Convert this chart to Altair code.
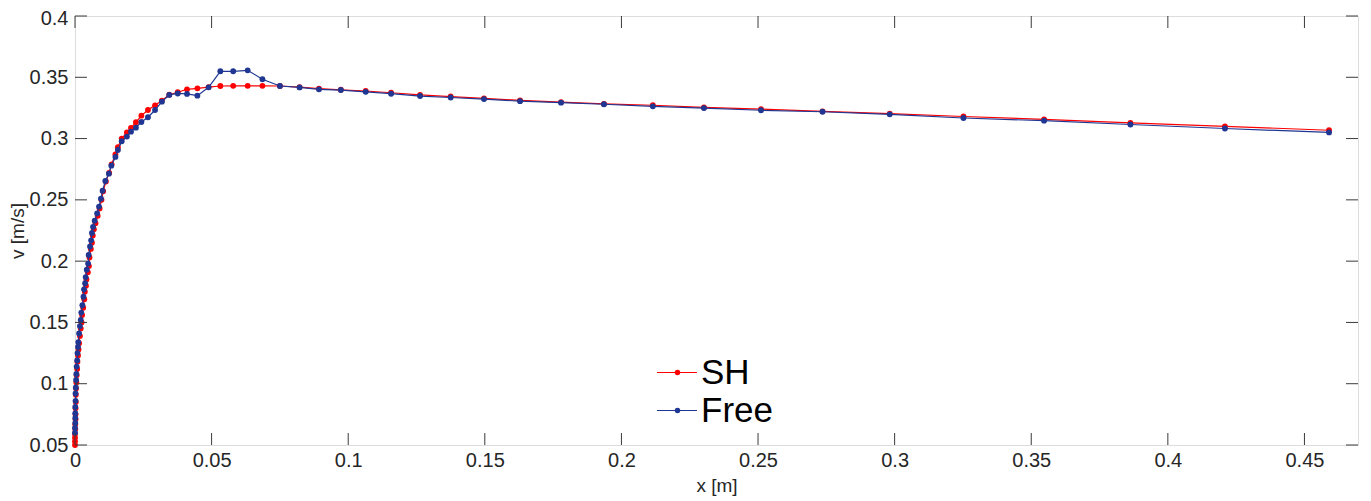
import altair as alt
import pandas as pd

# ---- data ----
x_free = [0.0000, 0.0000, 0.0001, 0.0001, 0.0001, 0.0001, 0.0002, 0.0002, 0.0003, 0.0004,
          0.0005, 0.0006, 0.0008, 0.0009, 0.0011, 0.0012, 0.0015, 0.0018, 0.0021, 0.0023,
          0.0027, 0.0031, 0.0033, 0.0037, 0.0039, 0.0043, 0.0048, 0.0050, 0.0055, 0.0059,
          0.0062, 0.0066, 0.0072, 0.0081, 0.0088, 0.0095, 0.0101, 0.0111, 0.0124, 0.0133,
          0.0148, 0.0157, 0.0171, 0.0190, 0.0205, 0.0223, 0.0243, 0.0267, 0.0293, 0.0318,
          0.0345, 0.0376, 0.0410, 0.0448, 0.0489, 0.0532, 0.0579, 0.0632, 0.0686, 0.0750,
          0.0822, 0.0893, 0.0973, 0.1064, 0.1157, 0.1263, 0.1375, 0.1497, 0.1629, 0.1779,
          0.1936, 0.2115, 0.2302, 0.2511, 0.2736, 0.2982, 0.3252, 0.3547, 0.3863, 0.4209,
          0.4590]
v_free = [0.060, 0.064, 0.068, 0.072, 0.076, 0.081, 0.086, 0.092, 0.097, 0.103,
          0.108, 0.114, 0.119, 0.125, 0.130, 0.134, 0.141, 0.147, 0.152, 0.158,
          0.164, 0.171, 0.177, 0.182, 0.187, 0.193, 0.198, 0.205, 0.212, 0.217,
          0.223, 0.228, 0.233, 0.239, 0.2445, 0.251, 0.2575, 0.2654, 0.2714, 0.2779,
          0.2850, 0.2907, 0.2978, 0.3016, 0.3056, 0.3089, 0.3135, 0.3174, 0.3233, 0.3301,
          0.3356, 0.3368, 0.3364, 0.3350, 0.3418, 0.3549, 0.3549, 0.3557, 0.3484, 0.3429,
          0.3417, 0.3402, 0.3396, 0.3381, 0.3366, 0.3347, 0.3335, 0.3322, 0.3305, 0.3293,
          0.3280, 0.3263, 0.3249, 0.3231, 0.3219, 0.3198, 0.3168, 0.3146, 0.3115, 0.3082,
          0.3050]

x_sh = [0.0000, 0.0000, 0.0000, 0.0000, 0.0001, 0.0001, 0.0002, 0.0002, 0.0002, 0.0003,
        0.0003, 0.0004, 0.0005, 0.0006, 0.0008, 0.0009, 0.0011, 0.0013, 0.0015, 0.0018,
        0.0021, 0.0024, 0.0026, 0.0030, 0.0034, 0.0036, 0.0040, 0.0042, 0.0047, 0.0051,
        0.0053, 0.0058, 0.0062, 0.0065, 0.0069, 0.0075, 0.0083, 0.0090, 0.0097, 0.0103,
        0.0113, 0.0125, 0.0134, 0.0148, 0.0157, 0.0171, 0.0190, 0.0205, 0.0223, 0.0243,
        0.0267, 0.0293, 0.0318, 0.0345, 0.0376, 0.0410, 0.0448, 0.0489, 0.0532, 0.0579,
        0.0632, 0.0686, 0.0750, 0.0822, 0.0893, 0.0973, 0.1064, 0.1157, 0.1263, 0.1375,
        0.1497, 0.1629, 0.1779, 0.1936, 0.2115, 0.2302, 0.2511, 0.2736, 0.2982, 0.3252,
        0.3547, 0.3863, 0.4209, 0.4590]
v_sh = [0.050, 0.053, 0.056, 0.059, 0.063, 0.067, 0.071, 0.075, 0.080, 0.085,
        0.091, 0.096, 0.101, 0.107, 0.112, 0.118, 0.123, 0.128, 0.133, 0.139,
        0.145, 0.150, 0.156, 0.162, 0.169, 0.175, 0.180, 0.185, 0.191, 0.196,
        0.203, 0.210, 0.215, 0.221, 0.226, 0.231, 0.237, 0.243, 0.250, 0.257,
        0.265, 0.272, 0.279, 0.287, 0.293, 0.300, 0.305, 0.3087, 0.3133, 0.3187,
        0.3233, 0.3271, 0.3310, 0.3358, 0.3378, 0.3402, 0.3410, 0.3420, 0.3429, 0.3430,
        0.3430, 0.3430, 0.3429, 0.3420, 0.3408, 0.3398, 0.3388, 0.3374, 0.3356, 0.3343,
        0.3328, 0.3312, 0.3298, 0.3283, 0.3272, 0.3254, 0.3240, 0.3222, 0.3204, 0.3180,
        0.3157, 0.3128, 0.3100, 0.3068]

x_ticks = [0, 0.05, 0.1, 0.15, 0.2, 0.25, 0.3, 0.35, 0.4, 0.45]
y_ticks = [0.05, 0.1, 0.15, 0.2, 0.25, 0.3, 0.35, 0.4]

legend_labels = ["SH", "Free"]
series_colors = ["#ff0000", "#1f3793"]

# ---- layout ----
W, H = 1283, 429
FONT = "Liberation Sans"
TXT = "#262626"
TICK_LEN = 12

df_sh = pd.DataFrame({"x": x_sh, "v": v_sh, "i": range(len(x_sh))})
df_free = pd.DataFrame({"x": x_free, "v": v_free, "i": range(len(x_free))})

xs = alt.Scale(domain=[0, 0.4696], nice=False, zero=False)
ys = alt.Scale(domain=[0.05, 0.4], nice=False, zero=False)

x_axis = alt.Axis(values=x_ticks, format="~g", ticks=False, domain=False, grid=False,
                  labelFont=FONT, labelFontSize=20, labelColor=TXT, labelPadding=5,
                  title="x [m]", titleFont=FONT, titleFontSize=19, titleFontWeight="normal",
                  titleColor=TXT, titlePadding=6, labelFlush=False)
y_axis = alt.Axis(values=y_ticks, format="~g", ticks=False, domain=False, grid=False,
                  labelFont=FONT, labelFontSize=20, labelColor=TXT, labelPadding=7,
                  labelOffset={"condition": {"test": "datum.value >= 0.399", "value": 2},
                               "value": 0},
                  title="v [m/s]", titleFont=FONT, titleFontSize=19, titleFontWeight="normal",
                  titleColor=TXT, titlePadding=2, labelFlush=False)


def X(field):
    return alt.X(field, scale=xs, axis=x_axis, title="x [m]")


def Y(field):
    return alt.Y(field, scale=ys, axis=y_axis, title="v [m/s]")


def series_layers(df, color):
    line = alt.Chart(df).mark_line(color=color, strokeWidth=1.2, clip=False).encode(
        x=X("x:Q"), y=Y("v:Q"), order="i:Q")
    pts = alt.Chart(df).mark_circle(color=color, size=34, opacity=1, clip=False).encode(
        x=X("x:Q"), y=Y("v:Q"))
    return [line, pts]


layers = []
layers += series_layers(df_sh, series_colors[0])
layers += series_layers(df_free, series_colors[1])

# inward ticks on all four sides (MATLAB style box)
tx = pd.DataFrame({"t": x_ticks})
ty = pd.DataFrame({"t": y_ticks})
tick_style = dict(color="#3a3a3a", strokeWidth=1)
layers.append(alt.Chart(tx).mark_rule(**tick_style).encode(
    x=X("t:Q"), y=alt.value(H), y2=alt.value(H - TICK_LEN)))
layers.append(alt.Chart(tx).mark_rule(**tick_style).encode(
    x=X("t:Q"), y=alt.value(0), y2=alt.value(TICK_LEN)))
layers.append(alt.Chart(ty).mark_rule(**tick_style).encode(
    y=Y("t:Q"), x=alt.value(0), x2=alt.value(TICK_LEN)))
layers.append(alt.Chart(ty).mark_rule(**tick_style).encode(
    y=Y("t:Q"), x=alt.value(W), x2=alt.value(W - TICK_LEN)))

# legend (inside the plot, no box)
one = pd.DataFrame({"a": [0]})
leg_x0, leg_x1, leg_dot = 582, 622, 602.5
leg_rows = [356.5, 394.5]
for lab, col, yy in zip(legend_labels, series_colors, leg_rows):
    layers.append(alt.Chart(one).mark_rule(color=col, strokeWidth=1.2).encode(
        x=alt.value(leg_x0), x2=alt.value(leg_x1), y=alt.value(yy)))
    layers.append(alt.Chart(one).mark_circle(color=col, size=30, opacity=1).encode(
        x=alt.value(leg_dot), y=alt.value(yy)))
    layers.append(alt.Chart(one).mark_text(text=lab, font=FONT, fontSize=35, color="#000000",
                                           align="left", baseline="alphabetic").encode(
        x=alt.value(626), y=alt.value(yy + 11.5)))

chart = alt.layer(*layers).properties(
    width=W, height=H,
    autosize=alt.AutoSizeParams(type="none"),
    padding={"left": 67, "top": 8, "right": 5, "bottom": 60},
).configure_view(stroke="#8a8a8a", strokeWidth=2).configure(background="white")

chart.save("out.html", embed_options={"renderer": "svg", "actions": False})
